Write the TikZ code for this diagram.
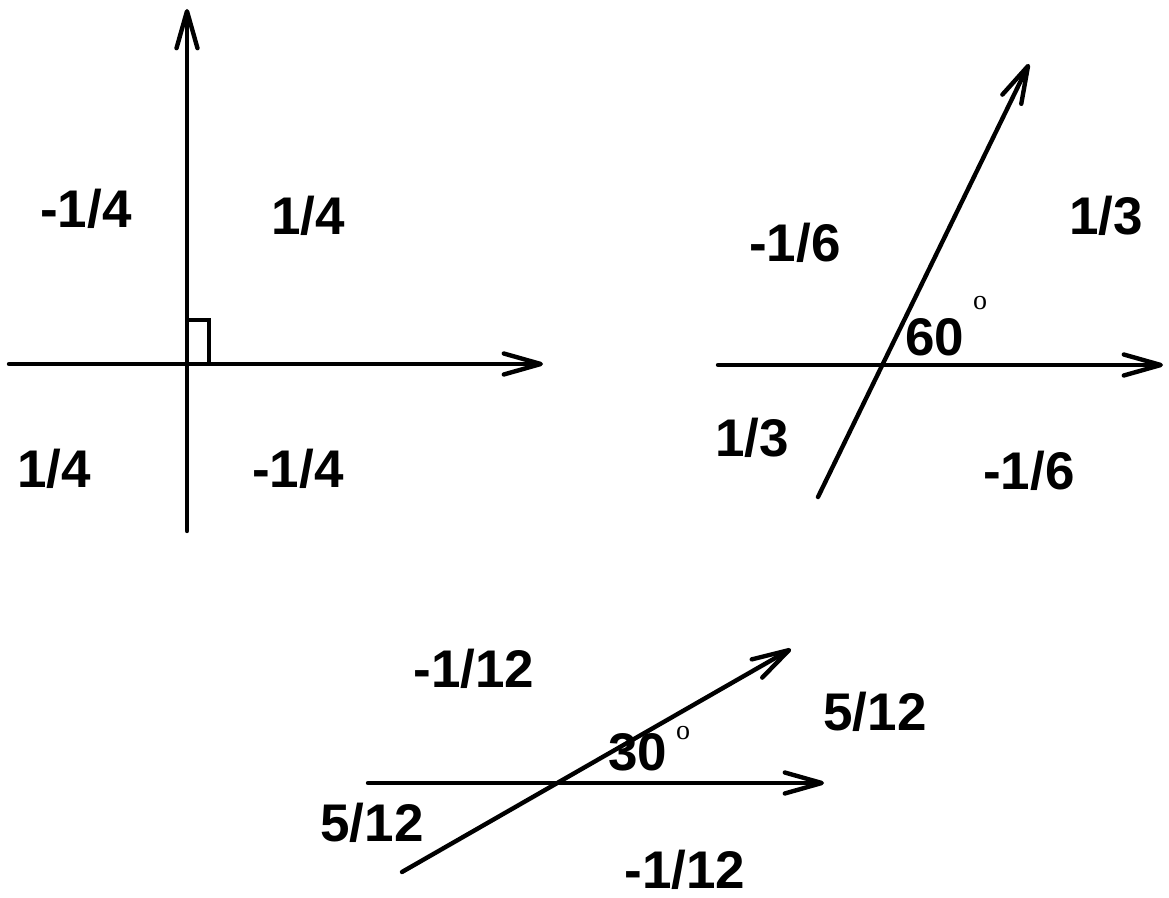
\documentclass[tikz,border=0pt]{standalone}
\usepackage{fontspec}
\setmainfont{Liberation Sans}
\newfontfamily\degfont{Liberation Serif}
\usetikzlibrary{arrows.meta}
\begin{document}
\begin{tikzpicture}[x=0.5pt,y=-0.5pt,
  axis/.style={line width=2.2pt,line cap=round,-{Straight Barb[length=18.5pt,width=10.5pt,round]}},
  lbl/.style={font=\fontsize{26.5}{30}\selectfont\bfseries, inner sep=0pt, text depth=0pt},
  deg/.style={font=\degfont\fontsize{14}{16}\selectfont, inner sep=0pt}]
\useasboundingbox (0,0) rectangle (1169,898);
% ---- panel 1 ----
\coordinate (h1s) at (9,364);
\coordinate (h1e) at (543,364);
\coordinate (v1s) at (187,531);
\coordinate (v1e) at (187,9);
\draw[axis] (h1s) -- (h1e);
\draw[axis] (v1s) -- (v1e);
\draw[line width=1.6pt] (187,320) -- (209,320) -- (209,364);
\node[lbl] (p1a) at (86,208) {-1/4};
\node[lbl] (p1b) at (308,215) {1/4};
\node[lbl] (p1c) at (54,468) {1/4};
\node[lbl] (p1d) at (298,468) {-1/4};
% ---- panel 2 ----
\coordinate (h2s) at (718,365);
\coordinate (h2e) at (1163,365);
\coordinate (s2s) at (818,497);
\coordinate (s2e) at (1029,64);
\draw[axis] (h2s) -- (h2e);
\draw[axis] (s2s) -- (s2e);
\node[lbl] (p2a) at (795,242) {-1/6};
\node[lbl] (p2b) at (1106,215) {1/3};
\node[lbl] (p2c) at (752,437) {1/3};
\node[lbl] (p2d) at (1029,470) {-1/6};
\node[lbl] (p2ang) at (935,337) {60};
\node[deg] (p2deg) at (980,303) {o};
% ---- panel 3 ----
\coordinate (h3s) at (368,783);
\coordinate (h3e) at (824,783);
\coordinate (s3s) at (402,872);
\coordinate (s3e) at (791,649);
\draw[axis] (h3s) -- (h3e);
\draw[axis] (s3s) -- (s3e);
\node[lbl] (p3a) at (474,668) {-1/12};
\node[lbl] (p3b) at (875,711) {5/12};
\node[lbl] (p3c) at (372,822) {5/12};
\node[lbl] (p3d) at (685,869) {-1/12};
\node[lbl] (p3ang) at (638,752) {30};
\node[deg] (p3deg) at (683,733) {o};
\end{tikzpicture}
\end{document}
